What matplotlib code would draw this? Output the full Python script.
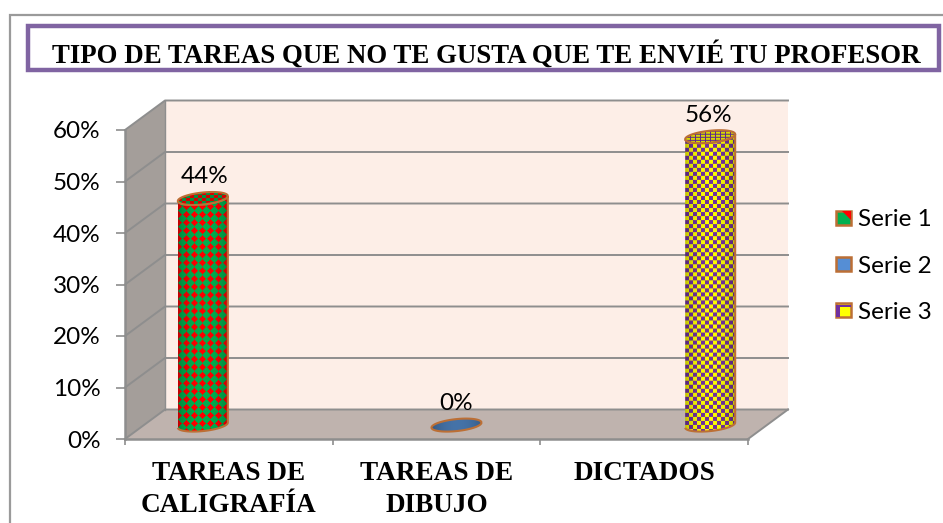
import numpy as np
import matplotlib
matplotlib.use('Agg')
import matplotlib.pyplot as plt
from matplotlib.patches import Polygon, PathPatch, Rectangle, Patch
from matplotlib.path import Path
from matplotlib.legend_handler import HandlerBase

categories = ['TAREAS DE\nCALIGRAFÍA', 'TAREAS DE\nDIBUJO', 'DICTADOS']
serie_1 = [44, None, None]
serie_2 = [None, 0, None]
serie_3 = [None, None, 56]
series_names = ['Serie 1', 'Serie 2', 'Serie 3']
y_ticks = [0, 10, 20, 30, 40, 50, 60]
title = 'TIPO DE TAREAS QUE NO TE GUSTA QUE TE ENVIÉ TU PROFESOR'

W, H = 943, 523
GREY = '#8E8E8E'
BROWN = '#BC6F35'

fig = plt.figure(figsize=(W / 100, H / 100), dpi=100)
ax = fig.add_axes([125 / W, 1 - 439 / H, 623 / W, 309 / H])
ax.patch.set_visible(False)
ax.set_xlim(-0.5, 2.5)
ax.set_ylim(0, 60)

# one data unit in pixels
ux = 623 / 3
uy = 309 / 60
dx = 40 / ux
dy = 29.5 / uy
x0, x1 = -0.5, 2.5

# outer frame and title box
fig.add_artist(Rectangle((9.5 / W, -0.1), 1.1, 1.1 - 15.5 / H, transform=fig.transFigure,
                         fc='white', ec='#9A9A9A', lw=1.6, zorder=-5))
fig.add_artist(Rectangle((27.5 / W, 1 - 69.5 / H), 911 / W, 43 / H, transform=fig.transFigure,
                         fc='white', ec='#8064A2', lw=3.2, zorder=-4))
fig.text(486 / W, 1 - 55 / H, title, family='Liberation Serif', weight='bold', fontsize=19.4,
         ha='center', va='center', color='black')

# 3d box
ax.add_patch(Polygon([(x0 + dx, dy), (x1 + dx, dy), (x1 + dx, 60 + dy), (x0 + dx, 60 + dy)],
                     fc='#FDEEE7', ec='none', clip_on=False, zorder=1))
ax.add_patch(Polygon([(x0, 0), (x0 + dx, dy), (x0 + dx, 60 + dy), (x0, 60)],
                     fc='#A49E9A', ec='none', clip_on=False, zorder=1))
ax.add_patch(Polygon([(x0, 0), (x1, 0), (x1 + dx, dy), (x0 + dx, dy)],
                     fc='#BFB3AE', ec='none', clip_on=False, zorder=1))
for v in y_ticks:
    ax.plot([x0, x0 + dx, x1 + dx], [v, v + dy, v + dy], color=GREY, lw=1.4,
            clip_on=False, zorder=2)
ax.plot([x0 + dx, x0 + dx], [dy, 60 + dy], color=GREY, lw=1, clip_on=False, zorder=2)
ax.plot([x1, x1 + dx], [0, dy], color=GREY, lw=1.4, clip_on=False, zorder=2)


def make_texture(kind, h, w, top=False):
    yy, xx = np.mgrid[0:h, 0:w]
    if kind == 0:
        a = np.array([0.0, 0.69, 0.31])
        b = np.array([1.0, 0.0, 0.0])
        mask = (np.abs((xx + 4) % 8 - 4) + np.abs(yy % 8 - 4)) <= 3.2
        if top:
            mask = ((xx // 4 + yy // 3) % 2) == 0
    elif kind == 1:
        a = np.array([0.27, 0.45, 0.66])
        b = a
        mask = np.zeros((h, w), bool)
    else:
        a = np.array([1.0, 1.0, 0.0])
        b = np.array([0.44, 0.19, 0.63])
        mask = ((xx // 4 + yy // 4) % 2) == 0
        if top:
            mask = (yy % 3 == 0) | (xx % 5 == 0)
    img = np.where(mask[..., None], b, a)
    shade = 0.72 + 0.28 * np.sin(np.pi * (xx + 0.5) / w) ** 0.6
    if top:
        shade = shade * 0 + 0.85
    return img * shade[..., None]


def draw_cylinder(xc, value, kind, label_x):
    width = 50 / ux
    eh = 12 / uy
    tilt = 2.5 / uy
    base = 2.7
    top = base + value
    t = np.linspace(0, 2 * np.pi, 80)
    ex = xc + width / 2 * np.cos(t)
    ey = eh / 2 * np.sin(t) + tilt * np.cos(t)
    half = t >= np.pi
    if value > 0:
        xs = np.r_[ex[half], ex[half][::-1]]
        ys = np.r_[base + ey[half], top + ey[half][::-1]]
        body = Path(np.c_[xs, ys])
        extent = (xc - width / 2, xc + width / 2, base - eh, top + eh)
        h = int((top - base + 2 * eh) * uy)
        im = ax.imshow(make_texture(kind, h, 50), extent=extent, aspect='auto',
                       interpolation='bilinear', zorder=3)
        im.set_clip_path(PathPatch(body, transform=ax.transData))
        ax.add_patch(PathPatch(body, fc='none', ec=BROWN, lw=1.5, clip_on=False, zorder=4))
    outline = Path(np.c_[ex, top + ey])
    extent = (xc - width / 2, xc + width / 2, top - eh, top + eh)
    im = ax.imshow(make_texture(kind, 24, 50, top=value > 0), extent=extent, aspect='auto',
                   interpolation='bilinear', zorder=5)
    im.set_clip_path(PathPatch(outline, transform=ax.transData))
    ax.add_patch(PathPatch(outline, fc='none', ec=BROWN, lw=1.5, clip_on=False, zorder=6))
    ax.text(label_x, top + 4.2, '{:d}%'.format(value), family='Lato', fontsize=17.5,
            ha='center', va='center', color='black', zorder=7)


for s, serie in enumerate([serie_1, serie_2, serie_3]):
    for c, value in enumerate(serie):
        if value is not None:
            draw_cylinder(c + (s - 1) * 46 / ux + 20 / ux, value, s,
                          c + (s - 1) * 44 / ux + 20 / ux)

ax.set_xlim(-0.5, 2.5)
ax.set_ylim(0, 60)

# axes
for name in ['top', 'right']:
    ax.spines[name].set_visible(False)
for name in ['left', 'bottom']:
    ax.spines[name].set_color(GREY)
    ax.spines[name].set_linewidth(1.8)
    ax.spines[name].set_zorder(2.5)
ax.set_yticks(y_ticks)
ax.set_yticklabels(['{}%'.format(v) for v in y_ticks], family='Lato', fontsize=17.5)
ax.tick_params(axis='y', length=6.5, width=1.2, color=GREY, pad=11)
ax.set_xticks([-0.5, 0.5, 1.5, 2.5])
ax.set_xticklabels([])
ax.tick_params(axis='x', which='major', length=4.5, width=1.2, color=GREY)
ax.set_xticks([0, 1, 2], minor=True)
ax.set_xticklabels(categories, minor=True, family='Liberation Serif', weight='bold',
                   fontsize=19.6, linespacing=1.41)
ax.tick_params(axis='x', which='minor', length=0, pad=15.5)


class Swatch(HandlerBase):
    def create_artists(self, legend, orig, xd, yd, width, height, fontsize, trans):
        s = 10.5
        x = -xd
        y = (height - s) / 2 - yd
        arts = [Rectangle((x, y), s, s, fc=orig.get_facecolor(), ec=BROWN, lw=1.8, transform=trans)]
        if orig.get_label() == series_names[0]:
            arts.append(Polygon([(x + s * 0.4, y + s), (x + s, y + s), (x + s, y + s * 0.35)],
                                fc='#FF0000', ec='none', transform=trans))
        if orig.get_label() == series_names[2]:
            arts.append(Rectangle((x, y), s * 0.3, s * 0.8, fc='#7030A0', ec='none', transform=trans))
            arts.append(Rectangle((x, y + s * 0.7), s, s * 0.13, fc='#7030A0', ec='none', transform=trans))
        return arts


handles = [Patch(fc='#00B050', label=series_names[0]),
           Patch(fc='#558ED5', label=series_names[1]),
           Patch(fc='#FFFF00', label=series_names[2])]
leg = ax.legend(handles=handles, handler_map={Patch: Swatch()}, frameon=False,
                loc='center left', bbox_to_anchor=(836 / W, 1 - 266 / H),
                bbox_transform=fig.transFigure, borderpad=0, borderaxespad=0,
                handlelength=0.6, handletextpad=0.3, labelspacing=1.03,
                prop={'family': 'Lato', 'size': 17.5})

fig.savefig('out.png', dpi=100)
